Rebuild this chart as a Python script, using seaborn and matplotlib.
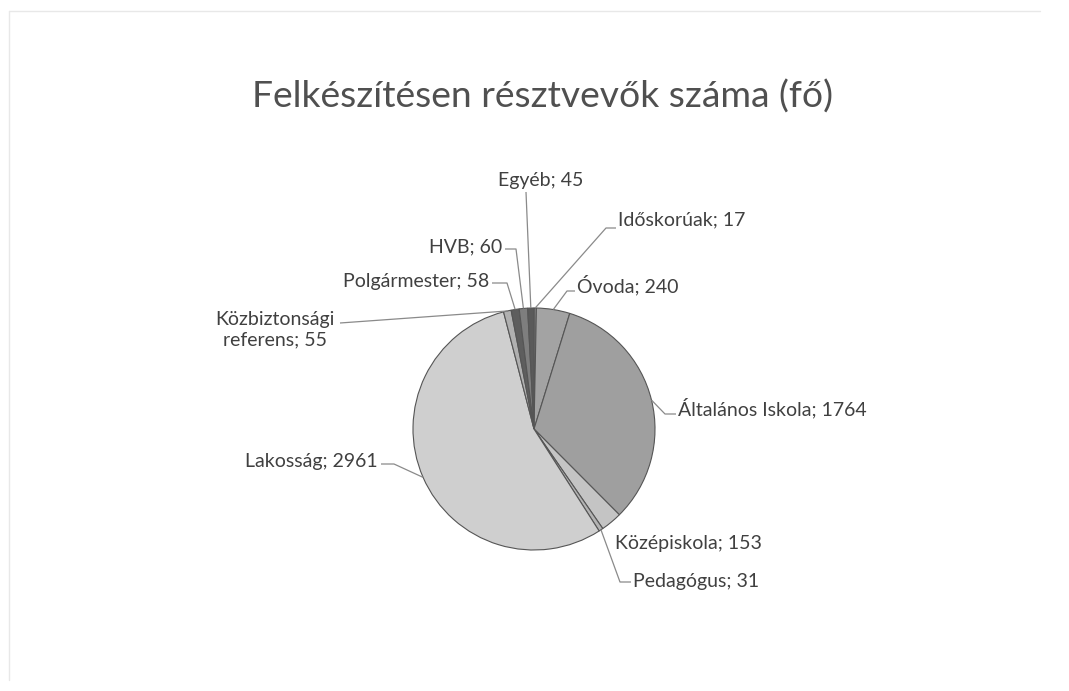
import matplotlib
matplotlib.use("Agg")
import matplotlib.pyplot as plt
from matplotlib.lines import Line2D
import seaborn as sns
import numpy as np

# ---- data ----
categories = ["Időskorúak", "Óvoda", "Általános Iskola", "Középiskola", "Pedagógus",
              "Lakosság", "Közbiztonsági\nreferens", "Polgármester", "HVB", "Egyéb"]
values = [17, 240, 1764, 153, 31, 2961, 55, 58, 60, 45]
colors = ["#8c8c8c", "#a3a3a3", "#9f9f9f", "#c4c4c4", "#b3b3b3",
          "#cfcfcf", "#b0b0b0", "#5e5e5e", "#7e7e7e", "#5a5a5a"]
title = "Felkészítésen résztvevők száma (fő)"

sns.set_theme(style="white")
plt.rcParams['font.family'] = ['Lato', 'DejaVu Sans']

W, H = 1069, 691
fig = plt.figure(figsize=(W / 100, H / 100), dpi=100)
fig.patch.set_facecolor("white")

cx, cy, r = 534, 429, 121
ax = fig.add_axes([(cx - r) / W, (H - cy - r) / H, 2 * r / W, 2 * r / H])
wedges, _ = ax.pie(values, colors=colors, startangle=90, counterclock=False, radius=1,
                   wedgeprops=dict(edgecolor="#555555", linewidth=0.8))
ax.set_xlim(-1, 1)
ax.set_ylim(-1, 1)
ax.set_aspect("equal")
ax.axis("off")


def P(px, py):
    return ((px - cx) / r, (cy - py) / r)


# layout of labels: text anchor (px), ha, leader elbow points (px) from pie edge outward
layout = [
    ((618, 220), "left", [(606, 228), (616, 228)]),
    ((577, 285), "left", [(567, 291), (575, 291)]),
    ((678, 408), "left", [(665, 414), (676, 414)]),
    ((615, 543), "left", []),
    ((633, 581), "left", [(620, 582), (631, 582)]),
    ((378, 462), "right", [(394, 464), (381, 464)]),
    ((275, 330), "center", [(340, 323)]),
    ((489, 281), "right", [(507, 283), (492, 283)]),
    ((502, 247), "right", [(516, 249), (505, 249)]),
    ((541, 180), "center", [(526, 192)]),
]

for w, name, val, (tpos, ha, pts) in zip(wedges, categories, values, layout):
    th = np.deg2rad((w.theta1 + w.theta2) / 2)
    ex, ey = np.cos(th), np.sin(th)
    tx, ty = P(*tpos)
    ax.text(tx, ty, f"{name}; {val}", ha=ha, va="center", multialignment="center",
            fontsize=14, color="#404040", clip_on=False, linespacing=1.25)
    if pts:
        xs = [ex] + [P(*p)[0] for p in pts]
        ys = [ey] + [P(*p)[1] for p in pts]
        ax.plot(xs, ys, color="#8a8a8a", lw=0.9, clip_on=False, solid_capstyle="butt")

fig.text(542 / W, 1 - 97 / H, title, ha="center", va="center", fontsize=26.8,
         color="#505050")

# faint chart frame
fig.add_artist(Line2D([9 / W, 1040 / W], [1 - 11 / H, 1 - 11 / H], color="#e8e8e8", lw=1))
fig.add_artist(Line2D([9 / W, 9 / W], [1 - 11 / H, 1 - 680 / H], color="#e8e8e8", lw=1))

fig.savefig("out.png", dpi=100, facecolor="white")
